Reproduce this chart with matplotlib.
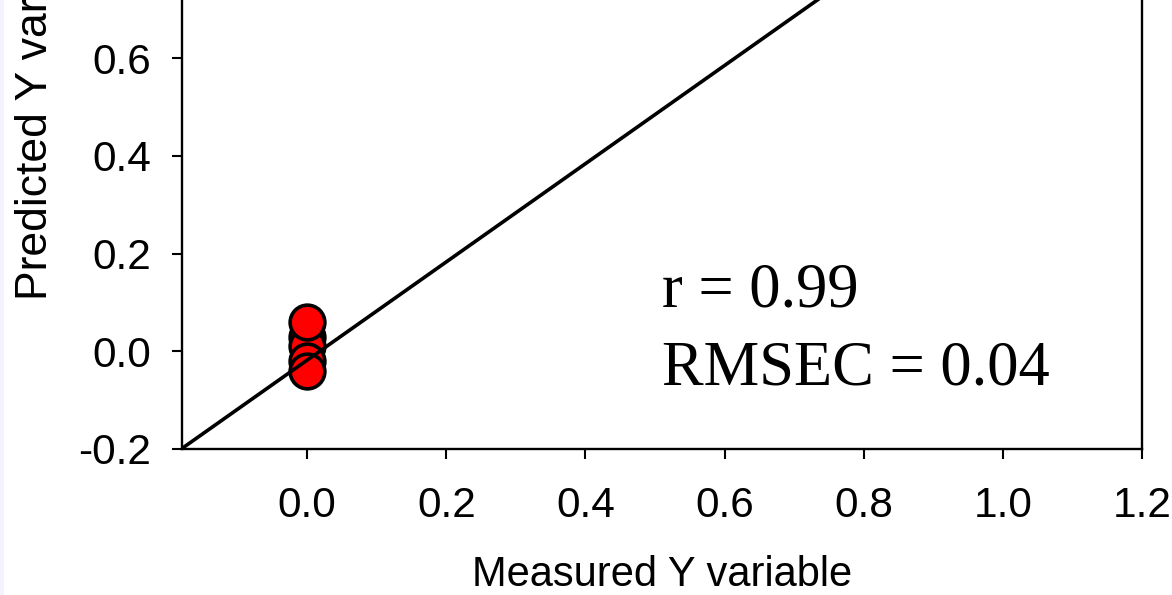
import numpy as np
import matplotlib
matplotlib.use("Agg")
import matplotlib.pyplot as plt
from matplotlib.patches import Rectangle

# calibration samples: measured vs predicted
measured = [0.0, 0.0, 0.0, 0.0, 0.0]
predicted = [0.03, 0.01, -0.02, 0.06, -0.04]

# fitted line and statistics
fit_slope = 1.005
fit_intercept = -0.018
r_value = 0.99
rmsec = 0.04

x_ticks = [0.0, 0.2, 0.4, 0.6, 0.8, 1.0, 1.2]
y_ticks = [-0.2, 0.0, 0.2, 0.4, 0.6]

plt.rcParams['font.family'] = ['Liberation Sans', 'DejaVu Sans']

fig = plt.figure(figsize=(11.72, 5.95), dpi=100)
fig.patches.append(Rectangle((0, 0), 4 / 1172, 1, transform=fig.transFigure,
                             facecolor='#f3f2ff', edgecolor='none'))

# axes runs past the top edge of the figure
ax = fig.add_axes([0.1553, 0.2454, 0.8191, 1.1496])
ax.set_xlim(-0.18, 1.2)
ax.set_ylim(-0.2, 1.2)

xs = np.array([-0.2, 1.2])
ax.plot(xs, fit_slope * xs + fit_intercept, color='black', lw=2.6, zorder=3)
for mx, py in zip(measured, predicted):
    ax.plot(mx, py, 'o', ms=25, mfc='#ff0000', mec='black', mew=2.6, zorder=2)

ax.set_xticks(x_ticks)
ax.set_yticks(y_ticks)
ax.set_xticklabels([f'{v:.1f}' for v in x_ticks])
ax.set_yticklabels([f'{v:.1f}' for v in y_ticks])
ax.tick_params(direction='out', length=7, width=1.5, labelsize=30.5, colors='black')
ax.tick_params(axis='y', pad=15)
ax.tick_params(axis='x', pad=19.5)
for side in ['left', 'bottom', 'right']:
    ax.spines[side].set_linewidth(1.7)
ax.spines['top'].set_visible(False)

ax.set_xlabel('Measured Y variable', fontsize=30, labelpad=21)
fig.text(36 / 1172, (595 - 300) / 595, 'Predicted Y variable', fontsize=32,
         rotation=90, ha='center', va='bottom')

ax.text(0.51, 0.092, f'r = {r_value:.2f}', fontsize=45, family='Liberation Serif',
        va='baseline')
ax.text(0.51, -0.069, f'RMSEC = {rmsec:.2f}', fontsize=45, family='Liberation Serif',
        va='baseline')

fig.savefig('out.png', dpi=100)
